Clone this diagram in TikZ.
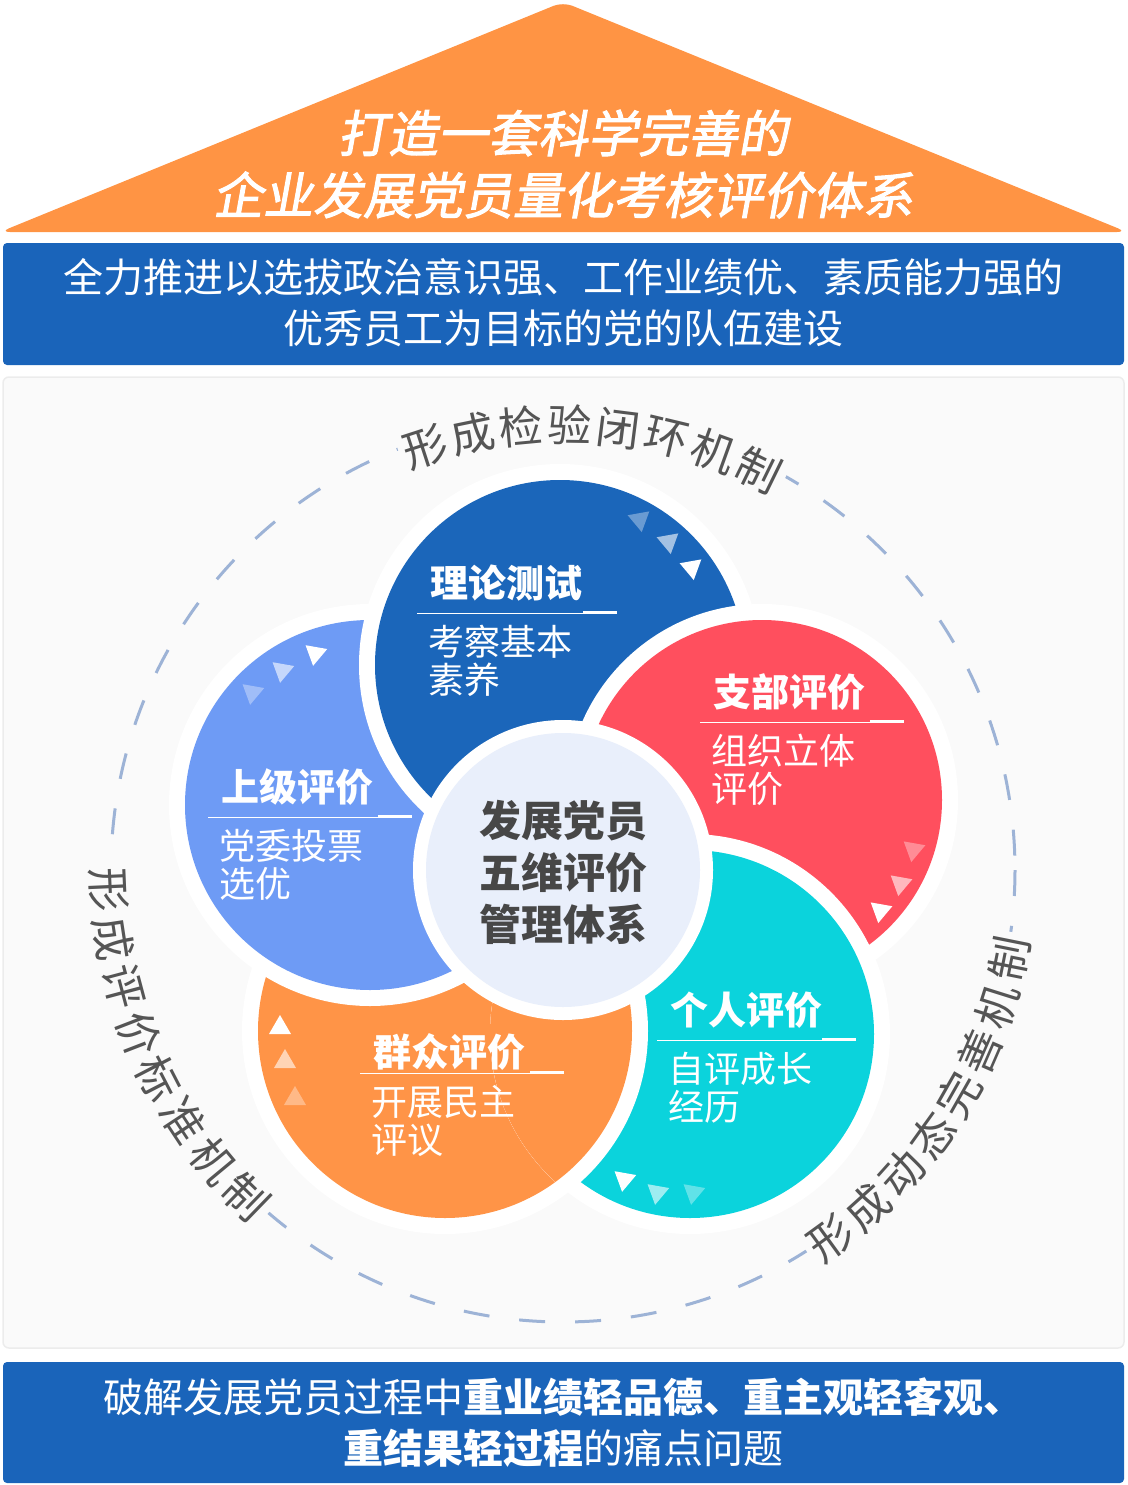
\documentclass[tikz,border=0pt]{standalone}
\usepackage{fontspec}
\setmainfont{Noto Sans CJK SC}
\newfontfamily\cjkslant{Noto Sans CJK SC}[FakeSlant=0.18,FakeBold=2]
\definecolor{roof}{HTML}{FF9444}
\definecolor{band}{HTML}{1A64BA}
\definecolor{pblue}{HTML}{1B66BA}
\definecolor{plight}{HTML}{6E9BF5}
\definecolor{pred}{HTML}{FF4F5E}
\definecolor{pcyan}{HTML}{0BD3DC}
\definecolor{porange}{HTML}{FF9447}
\definecolor{hub}{HTML}{E9EFFB}
\definecolor{ring}{HTML}{9DB3D6}
\definecolor{arctext}{HTML}{555555}
\tikzset{
  petal/.style={fill=#1},
  halo/.style={fill=white},
  ptitle/.style={anchor=west,text=white,font=\fontsize{38}{38}\selectfont\bfseries,inner sep=0pt},
  psub/.style={anchor=west,text=white,font=\fontsize{36}{36}\selectfont,inner sep=0pt},
  arcchar/.style={text=arctext,font=\fontsize{44}{44}\selectfont,inner sep=5pt},
  bandtext/.style={text=white,font=\fontsize{40}{40}\selectfont,inner sep=0pt}
}
% small arrow triangle: x, y, rotation, opacity
\newcommand{\tri}[4]{\fill[white,opacity=#4,shift={(#1,#2)},rotate=#3] (11,0) -- (-8,11) -- (-8,-11) -- cycle;}
% label block: name, x, title y, line y, line end, title, line1, line2
\newcommand{\plabel}[8]{
  \node[ptitle] (#1t) at (#2+13,#3) {#6};
  \draw[white,line width=1pt] (#2,#4) -- (#5,#4);
  \draw[white,line width=3pt] (#5,#4-1) -- (#5+34,#4-1);
  \node[psub] (#1a) at (#2+11,#4+29) {#7};
  \node[psub] (#1b) at (#2+11,#4+67) {#8};
}
\begin{document}
\begin{tikzpicture}[x=1pt,y=-1pt]
\useasboundingbox (0,0) rectangle (1127,1485);

% roof and title
\fill[roof,rounded corners=10pt] (0,232) -- (563,2) -- (1127,232) -- cycle;
\node[text=white,font=\cjkslant\fontsize{50}{50}\selectfont,inner sep=0pt] (t1) at (563,133) {打造一套科学完善的};
\node[text=white,font=\cjkslant\fontsize{50}{50}\selectfont,inner sep=0pt] (t2) at (563,195) {企业发展党员量化考核评价体系};

% top band
\fill[band,rounded corners=4pt] (3,243) rectangle (1124,365);
\node[bandtext] (g1) at (563,277) {全力推进以选拔政治意识强、工作业绩优、素质能力强的};
\node[bandtext] (g2) at (563,328) {优秀员工为目标的党的队伍建设};

% panel
\filldraw[fill=gray!4,draw=gray!15,line width=1.5pt,rounded corners=6pt] (3,377) rectangle (1124,1348);

% dashed ring and arc texts
\draw[ring,line width=3pt,dash pattern=on 26pt off 30pt] (563,870) circle (452);
\foreach \c [count=\i] in {形,成,检,验,闭,环,机,制}
  \node[arcchar,fill=gray!4,rotate={108-(\i-1)*6.3-90}] at ({563+445*cos(108-(\i-1)*6.3)},{870-445*sin(108-(\i-1)*6.3)}) {\c};
\foreach \c [count=\i] in {形,成,评,价,标,准,机,制}
  \node[arcchar,fill=gray!4,rotate={182.5+(\i-1)*6.2+90}] at ({563+455*cos(182.5+(\i-1)*6.2)},{870-455*sin(182.5+(\i-1)*6.2)}) {\c};
\foreach \c [count=\i] in {形,成,动,态,完,善,机,制}
  \node[arcchar,fill=gray!4,rotate={-54+(\i-1)*6.1+90}] at ({563+455*cos(-54+(\i-1)*6.1)},{870-455*sin(-54+(\i-1)*6.1)}) {\c};

% petals
\fill[halo] (445,1031) circle (203);  \fill[petal=porange] (445,1031) circle (187);
\fill[halo] (370,805) circle (201);   \fill[petal=plight] (370,805) circle (185);
\fill[halo] (560,665) circle (201);   \fill[petal=pblue] (560,665) circle (185);
\fill[halo] (762,800) circle (196);   \fill[petal=pred] (762,800) circle (180);
\fill[halo] (690,1034) circle (200);  \fill[petal=pcyan] (690,1034) circle (184);
\begin{scope}
  \clip (690,1034) circle (200);
  \fill[halo] (445,1031) circle (203);  \fill[petal=porange] (445,1031) circle (187);
\end{scope}

% hub
\fill[halo] (563,870) circle (150);
\fill[hub] (563,870) circle (137);
\node[text=black!72,font=\fontsize{42}{42}\selectfont\bfseries,align=center,inner sep=0pt] (hubtext) at (563,872)
  {发展党员\\[10pt]五维评价\\[10pt]管理体系};

% arrow triangles
\tri{638}{519}{160}{0.35} \tri{667}{541}{160}{0.6} \tri{690}{567}{160}{1}
\tri{252}{694}{-100}{0.35} \tri{282}{672}{-100}{0.6} \tri{315}{655}{-100}{1}
\tri{915}{849}{20}{0.35} \tri{902}{883}{20}{0.6} \tri{882}{910}{20}{1}
\tri{693}{1194}{-100}{0.35} \tri{657}{1194}{-100}{0.6} \tri{624}{1181}{-100}{1}
\tri{295}{1097}{90}{0.35} \tri{285}{1060}{90}{0.6} \tri{280}{1026}{90}{1}

% labels
\plabel{th}{417}{583}{613}{583}{理论测试}{考察基本}{素养}
\plabel{br}{700}{692}{722}{870}{支部评价}{组织立体}{评价}
\plabel{up}{208}{787}{817}{378}{上级评价}{党委投票}{选优}
\plabel{se}{657}{1010}{1040}{822}{个人评价}{自评成长}{经历}
\plabel{ma}{360}{1052}{1073}{530}{群众评价}{开展民主}{评议}

% bottom band
\fill[band,rounded corners=4pt] (3,1362) rectangle (1124,1483);
\node[bandtext] (p1) at (563,1397) {破解发展党员过程中\textbf{重业绩轻品德、重主观轻客观、}};
\node[bandtext] (p2) at (563,1448) {\textbf{重结果轻过程}的痛点问题};
\end{tikzpicture}
\end{document}
